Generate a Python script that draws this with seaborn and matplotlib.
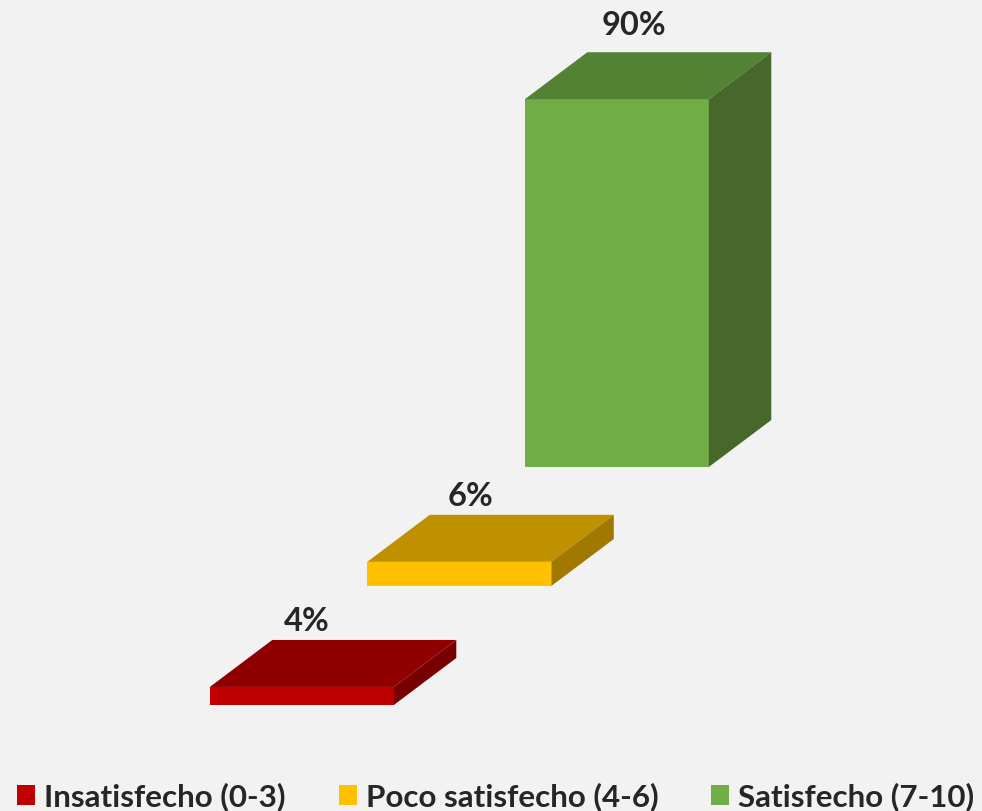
import matplotlib
matplotlib.use("Agg")
import matplotlib.pyplot as plt
from matplotlib.patches import Patch
import seaborn as sns
import pandas as pd

categories = ["Insatisfecho (0-3)", "Poco satisfecho (4-6)", "Satisfecho (7-10)"]
values = [4.4, 5.9, 89.7]
front_colors = ["#C00000", "#FFC000", "#70AD47"]
top_colors = ["#900000", "#BF9000", "#548235"]
side_colors = ["#790000", "#A17900", "#46692B"]

BG = "#F2F2F2"
TXT = "#262626"
W, H = 982, 811
PX_X = 157.5      # pixels per category step
PX_Y = 4.10       # pixels per percentage point
X0, Y0 = 301.8, 705 # pixel position of the first bar's base centre
DEPTH_X = 62.5 / PX_X
DEPTH_Y = 47 / PX_Y
STEP_Y = 119 / PX_Y
BAR_W = 184 / PX_X
LABEL_DX = [5, 11, 17]
LABEL_DY = [18, 18, 27]

sns.set_theme(style="white", rc={"figure.facecolor": BG, "axes.facecolor": BG})
plt.rcParams["font.family"] = ["Lato", "DejaVu Sans"]

fig = plt.figure(figsize=(W / 100, H / 100), dpi=100)
ax = fig.add_axes([0, 0, 1, 1])
df = pd.DataFrame({"cat": categories, "val": values})
sns.barplot(data=df, x="cat", y="val", hue="cat", palette=front_colors,
            width=BAR_W, dodge=False, legend=False, saturation=1, ax=ax, linewidth=0)

ax.set_xlim(-X0 / PX_X, (W - X0) / PX_X)
ax.set_ylim(-(H - Y0) / PX_Y, Y0 / PX_Y)
ax.axis("off")

for i, v in enumerate(values):
    base = i * STEP_Y
    ax.containers[i][0].set_y(base)
    l, r = i - BAR_W / 2, i + BAR_W / 2
    b, t = base, base + v
    ax.fill([l, r, r + DEPTH_X, l + DEPTH_X], [t, t, t + DEPTH_Y, t + DEPTH_Y],
            color=top_colors[i], lw=0, zorder=3)
    ax.fill([r, r + DEPTH_X, r + DEPTH_X, r], [b, b + DEPTH_Y, t + DEPTH_Y, t],
            color=side_colors[i], lw=0, zorder=3)
    ax.annotate(f"{v:.0f}%", (i, t + DEPTH_Y), xytext=(LABEL_DX[i] * 0.72, LABEL_DY[i] * 0.72),
                textcoords="offset points", ha="center", va="center",
                fontsize=23.5, fontweight="bold", color=TXT)

handles = [Patch(facecolor=c, edgecolor="none", label=n) for c, n in zip(front_colors, categories)]
fs = 22.6
px = fs * 100 / 72
fig.legend(handles=handles, ncol=3, loc="lower left", bbox_to_anchor=(17 / W, 0 / H),
           frameon=False, labelcolor=TXT, borderpad=0, borderaxespad=0,
           handlelength=18 / px, handleheight=18 / px, handletextpad=9 / px,
           columnspacing=53 / px, prop={"size": fs, "weight": "bold"})

fig.savefig("out.png", dpi=100, facecolor=BG)
